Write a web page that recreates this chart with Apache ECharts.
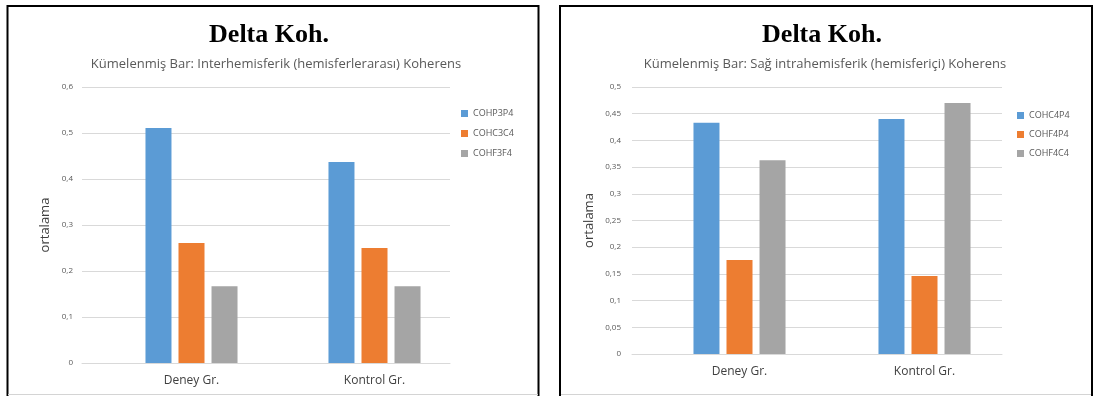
<!DOCTYPE html>
<html>
<head>
<meta charset="utf-8">
<script src="https://cdn.jsdelivr.net/npm/echarts@6/dist/echarts.min.js"></script>
<style>
  html, body { margin: 0; padding: 0; background: #fff; }
  #c { width: 1096px; height: 396px; }
</style>
</head>
<body>
<div id="c"></div>
<script>
// Group categories shared by both panels
const groups = ['Deney Gr.', 'Kontrol Gr.'];

// Interhemisferik (hemisferlerarası) koherens
const interNames = ['COHP3P4', 'COHC3C4', 'COHF3F4'];
const cohP3P4 = [0.511, 0.437];
const cohC3C4 = [0.261, 0.250];
const cohF3F4 = [0.167, 0.167];

// Sağ intrahemisferik (hemisferiçi) koherens
const intraNames = ['COHC4P4', 'COHF4P4', 'COHF4C4'];
const cohC4P4 = [0.433, 0.440];
const cohF4P4 = [0.176, 0.146];
const cohF4C4 = [0.363, 0.470];

// Y axis ranges (min, max, step)
const leftAxis = [0, 0.6, 0.1];
const rightAxis = [0, 0.5, 0.05];

const colors = ['#5B9BD5', '#ED7D31', '#A5A5A5'];

const titleText = 'Delta Koh.';
const leftSub = 'Kümelenmiş Bar: Interhemisferik (hemisferlerarası) Koherens';
const rightSub = 'Kümelenmiş Bar: Sağ intrahemisferik (hemisferiçi) Koherens';
const yName = 'ortalama';

const chart = echarts.init(document.getElementById('c'), null, { renderer: 'canvas' });

const commaFmt = v => String(Math.round(v * 100) / 100).replace('.', ',');
const uiFont = '"Open Sans", "Noto Sans", sans-serif';

function frameAxis(grid, range, labelMargin, nameGap) {
  return {
    gridIndex: grid, type: 'value', min: range[0], max: range[1], interval: range[2],
    axisLine: { show: false }, axisTick: { show: false },
    splitLine: { lineStyle: { color: '#d9d9d9', width: 1 } },
    axisLabel: { formatter: commaFmt, fontSize: 8, color: '#595959', margin: labelMargin, fontFamily: uiFont },
    name: yName, nameLocation: 'middle', nameGap: nameGap,
    nameTextStyle: { fontSize: 13, color: '#404040', fontFamily: uiFont }
  };
}
function hiddenY(grid, range) {
  return { gridIndex: grid, type: 'value', min: range[0], max: range[1], interval: range[2], show: false };
}
function frameX(grid) {
  return {
    gridIndex: grid, type: 'category', data: groups,
    axisLine: { lineStyle: { color: '#d9d9d9', width: 1 } },
    axisTick: { show: false }, axisLabel: { show: false }
  };
}
function barX(grid) {
  return {
    gridIndex: grid, type: 'category', data: groups,
    axisLine: { show: false }, axisTick: { show: false },
    axisLabel: { margin: 12, fontSize: 12, color: '#404040', fontFamily: uiFont }
  };
}
function bars(names, values, axisIdx) {
  return names.map((n, i) => ({
    name: n, type: 'bar', xAxisIndex: axisIdx, yAxisIndex: axisIdx,
    data: values[i], barWidth: 26, barGap: '27%',
    itemStyle: { color: colors[i] }, silent: true
  }));
}
function legendFor(names, left, top, gap) {
  return {
    data: names, orient: 'vertical', left: left, top: top, padding: 0,
    icon: 'rect', itemWidth: 7, itemHeight: 7, itemGap: gap,
    textStyle: { fontSize: 9, color: '#595959', fontFamily: uiFont },
    selectedMode: false
  };
}

chart.setOption({
  animation: false,
  backgroundColor: '#fff',
  title: [
    { text: titleText, left: 264, top: 17, textAlign: 'center',
      textStyle: { fontFamily: '"Liberation Serif", serif', fontWeight: 'bold', fontSize: 26, color: '#000' } },
    { text: leftSub, left: 271, top: 53, textAlign: 'center',
      textStyle: { fontFamily: uiFont, fontWeight: 'normal', fontSize: 13, color: '#595959' } },
    { text: titleText, left: 817, top: 17, textAlign: 'center',
      textStyle: { fontFamily: '"Liberation Serif", serif', fontWeight: 'bold', fontSize: 26, color: '#000' } },
    { text: rightSub, left: 820, top: 53, textAlign: 'center',
      textStyle: { fontFamily: uiFont, fontWeight: 'normal', fontSize: 13, color: '#595959' } }
  ],
  legend: [
    legendFor(interNames, 461, 109, 11),
    legendFor(intraNames, 1017, 111, 10)
  ],
  grid: [
    { left: 82, top: 87, width: 368, height: 276 },   // left frame: gridlines and ticks
    { left: 100, top: 87, width: 366, height: 276 },  // left bars
    { left: 632, top: 87, width: 370, height: 267 },  // right frame
    { left: 647, top: 87, width: 370, height: 267 }   // right bars
  ],
  xAxis: [frameX(0), barX(1), frameX(2), barX(3)],
  yAxis: [
    frameAxis(0, leftAxis, 9, 30), hiddenY(1, leftAxis),
    frameAxis(2, rightAxis, 11, 36), hiddenY(3, rightAxis)
  ],
  series: [
    ...bars(interNames, [cohP3P4, cohC3C4, cohF3F4], 1),
    ...bars(intraNames, [cohC4P4, cohF4P4, cohF4C4], 3)
  ],
  graphic: [
    { type: 'rect', silent: true, shape: { x: 7.5, y: 6, width: 531, height: 420 },
      style: { fill: null, stroke: '#000', lineWidth: 2 } },
    { type: 'rect', silent: true, shape: { x: 560, y: 6, width: 532, height: 420 },
      style: { fill: null, stroke: '#000', lineWidth: 2 } },
    { type: 'line', silent: true, shape: { x1: 8, y1: 394.5, x2: 538, y2: 394.5 },
      style: { stroke: '#d4d4d4', lineWidth: 1 } },
    { type: 'line', silent: true, shape: { x1: 561, y1: 394.5, x2: 1091, y2: 394.5 },
      style: { stroke: '#d4d4d4', lineWidth: 1 } }
  ]
});
</script>
</body>
</html>
